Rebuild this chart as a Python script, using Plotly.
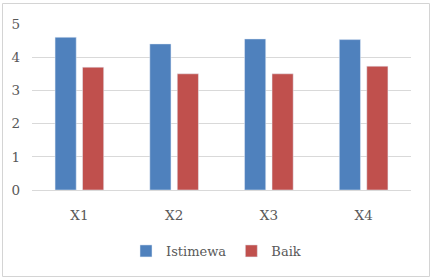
import plotly.graph_objects as go

categories = ["X1", "X2", "X3", "X4"]
istimewa = [4.6, 4.4, 4.55, 4.53]
baik = [3.7, 3.5, 3.5, 3.73]
y_ticks = [0, 1, 2, 3, 4, 5]

W, H = 437, 280
L, R, T, B = 32, 26, 24, 90
pw, ph = W - L - R, H - T - B

def px_to_paper_x(px):
    return (px - L) / pw

def px_to_paper_y(py):
    return (H - B - py) / ph

font_family = "DejaVu Serif"

fig = go.Figure()
fig.add_trace(go.Bar(x=categories, y=istimewa, name="Istimewa", marker_color="#4F81BD"))
fig.add_trace(go.Bar(x=categories, y=baik, name="Baik", marker_color="#C0504D"))

fig.update_layout(
    width=W, height=H,
    margin=dict(l=L, r=R, t=T, b=B, pad=0, autoexpand=False),
    paper_bgcolor="white", plot_bgcolor="white",
    barmode="group", bargap=0.42, bargroupgap=0.23,
    font=dict(family=font_family, size=13, color="#595959"),
    showlegend=True,
    legend=dict(orientation="h", x=px_to_paper_x(216), xanchor="center",
                y=px_to_paper_y(251), yanchor="middle",
                font=dict(family=font_family, size=13, color="#595959"),
                itemwidth=30, traceorder="normal", tracegroupgap=0,
                bgcolor="rgba(0,0,0,0)"),
    xaxis=dict(showgrid=False, showline=True, linecolor="#D9D9D9", linewidth=1,
               ticks="", tickfont=dict(family=font_family, size=13.5), ticklabelstandoff=13),
    yaxis=dict(range=[0, 5], tickvals=y_ticks, showgrid=True, gridcolor="#D9D9D9", gridwidth=1,
               zeroline=False, showline=False, ticks="", tickfont=dict(family=font_family, size=13.5),
               ticklabelstandoff=11),
    shapes=[dict(type="rect", xref="paper", yref="paper",
                 x0=px_to_paper_x(2.5), x1=px_to_paper_x(429.5),
                 y0=px_to_paper_y(276.5), y1=px_to_paper_y(3.5),
                 line=dict(color="#D4D4D4", width=1), fillcolor="rgba(0,0,0,0)", layer="above")],
)

fig.write_html("out.html", config={"displayModeBar": False},
               post_script="document.body.style.margin='0';")
